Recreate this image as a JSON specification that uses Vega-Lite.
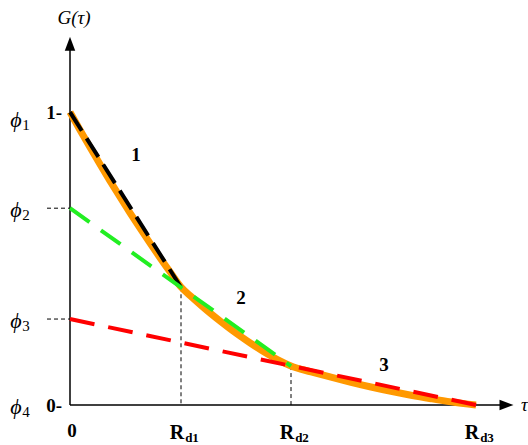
{
  "$schema": "https://vega.github.io/schema/vega-lite/v6.json",
  "width": 440,
  "height": 369,
  "autosize": "none",
  "padding": {"left": 70, "top": 36, "right": 18, "bottom": 40},
  "background": "white",
  "config": {"view": {"stroke": null}, "font": "Liberation Serif", "text": {"font": "Liberation Serif"}},
  "datasets": {
    "curve": [
      {"tau": 0, "G": 1.0}, {"tau": 10, "G": 0.9392}, {"tau": 20, "G": 0.8799}, {"tau": 30, "G": 0.8218},
      {"tau": 40, "G": 0.7652}, {"tau": 50, "G": 0.7102}, {"tau": 60, "G": 0.6563}, {"tau": 70, "G": 0.6038},
      {"tau": 80, "G": 0.5529}, {"tau": 90, "G": 0.5031}, {"tau": 100, "G": 0.4549}, {"tau": 111, "G": 0.4030},
      {"tau": 121, "G": 0.3710}, {"tau": 131, "G": 0.3406}, {"tau": 141, "G": 0.3116}, {"tau": 151, "G": 0.2843},
      {"tau": 161, "G": 0.2580}, {"tau": 171, "G": 0.2334}, {"tau": 181, "G": 0.2099}, {"tau": 191, "G": 0.1881},
      {"tau": 201, "G": 0.1676}, {"tau": 211, "G": 0.1490}, {"tau": 221, "G": 0.1330},
      {"tau": 241, "G": 0.1133}, {"tau": 261, "G": 0.0949}, {"tau": 281, "G": 0.0775}, {"tau": 301, "G": 0.0614},
      {"tau": 321, "G": 0.0468}, {"tau": 341, "G": 0.0334}, {"tau": 361, "G": 0.0215}, {"tau": 381, "G": 0.0106},
      {"tau": 406, "G": 0.0}
    ],
    "segments": [
      {"seg": "1", "tau": 0, "G": 1.0}, {"seg": "1", "tau": 111, "G": 0.402},
      {"seg": "2", "tau": 0, "G": 0.672}, {"seg": "2", "tau": 221, "G": 0.133},
      {"seg": "3", "tau": 0, "G": 0.2935}, {"seg": "3", "tau": 406, "G": 0.0}
    ],
    "breaks": [
      {"name": "d1", "Rd": 111, "G": 0.402},
      {"name": "d2", "Rd": 221, "G": 0.133},
      {"name": "d3", "Rd": 406, "G": 0.0}
    ],
    "phis": [
      {"sub": "1", "phi": 1.0},
      {"sub": "2", "phi": 0.672},
      {"sub": "3", "phi": 0.2935},
      {"sub": "4", "phi": 0.0}
    ],
    "ticks": [
      {"t": "1-", "G": 1.0},
      {"t": "0-", "G": 0.0}
    ],
    "segLabels": [
      {"label": "1", "tau": 66, "G": 0.853},
      {"label": "2", "tau": 171, "G": 0.365},
      {"label": "3", "tau": 314, "G": 0.137}
    ],
    "axes": [
      {"axis": "G", "tau0": 0, "tau1": 0, "G0": 0, "G1": 1.215},
      {"axis": "tau", "tau0": 0, "tau1": 432, "G0": 0, "G1": 0}
    ]
  },
  "layer": [
    {
      "data": {"name": "breaks"},
      "transform": [{"filter": "datum.G > 0"}],
      "mark": {"type": "rule", "color": "black", "strokeWidth": 1, "strokeDash": [4, 3]},
      "encoding": {
        "x": {"field": "Rd", "type": "quantitative", "scale": {"domain": [0, 440], "nice": false}, "axis": null},
        "y": {"field": "G", "type": "quantitative", "scale": {"domain": [0, 1.26], "nice": false}, "axis": null},
        "y2": {"datum": 0}
      }
    },
    {
      "data": {"name": "phis"},
      "transform": [{"filter": "datum.sub == '2' || datum.sub == '3'"}],
      "mark": {"type": "rule", "color": "black", "strokeWidth": 1, "strokeDash": [4, 3]},
      "encoding": {
        "y": {"field": "phi", "type": "quantitative"},
        "x": {"datum": -23, "type": "quantitative"},
        "x2": {"datum": 0}
      }
    },
    {
      "data": {"name": "axes"},
      "mark": {"type": "rule", "color": "black", "strokeWidth": 1.5},
      "encoding": {
        "x": {"field": "tau0", "type": "quantitative"},
        "x2": {"field": "tau1"},
        "y": {"field": "G0", "type": "quantitative"},
        "y2": {"field": "G1"}
      }
    },
    {
      "data": {"values": [{"axis": "G"}]},
      "mark": {"type": "point", "shape": "M-0.75,1L0,-1L0.75,1Z", "filled": true, "color": "black", "size": 196, "opacity": 1},
      "encoding": {
        "x": {"datum": 0, "type": "quantitative"},
        "y": {"datum": 1.2335, "type": "quantitative"}
      }
    },
    {
      "data": {"values": [{"axis": "tau"}]},
      "mark": {"type": "point", "shape": "M-1,-0.75L1,0L-1,0.75Z", "filled": true, "color": "black", "size": 196, "opacity": 1},
      "encoding": {
        "x": {"datum": 436.5, "type": "quantitative"},
        "y": {"datum": 0, "type": "quantitative"}
      }
    },
    {
      "data": {"name": "curve"},
      "mark": {"type": "line", "color": "#FF9900", "strokeWidth": 7, "strokeCap": "butt", "strokeJoin": "round", "interpolate": "monotone"},
      "encoding": {
        "x": {"field": "tau", "type": "quantitative"},
        "y": {"field": "G", "type": "quantitative"}
      }
    },
    {
      "data": {"name": "segments"},
      "transform": [{"filter": "datum.seg == '1'"}],
      "mark": {"type": "line", "strokeWidth": 4, "strokeCap": "butt", "color": "#000000", "strokeDash": [22, 9]},
      "encoding": {
        "x": {"field": "tau", "type": "quantitative"},
        "y": {"field": "G", "type": "quantitative"}
      }
    },
    {
      "data": {"name": "segments"},
      "transform": [{"filter": "datum.seg == '2'"}],
      "mark": {"type": "line", "strokeWidth": 4, "strokeCap": "butt", "color": "#22EE22", "strokeDash": [24, 14]},
      "encoding": {
        "x": {"field": "tau", "type": "quantitative"},
        "y": {"field": "G", "type": "quantitative"}
      }
    },
    {
      "data": {"name": "segments"},
      "transform": [{"filter": "datum.seg == '3'"}],
      "mark": {"type": "line", "strokeWidth": 4, "strokeCap": "butt", "color": "#FF0000", "strokeDash": [25, 14]},
      "encoding": {
        "x": {"field": "tau", "type": "quantitative"},
        "y": {"field": "G", "type": "quantitative"}
      }
    },
    {
      "data": {"name": "segLabels"},
      "mark": {"type": "text", "font": "Liberation Serif", "fontSize": 19, "fontWeight": "bold", "color": "black", "baseline": "middle", "align": "center"},
      "encoding": {
        "x": {"field": "tau", "type": "quantitative"},
        "y": {"field": "G", "type": "quantitative"},
        "text": {"field": "label"}
      }
    },
    {
      "data": {"name": "ticks"},
      "mark": {"type": "text", "font": "Liberation Serif", "fontSize": 19, "fontWeight": "bold", "color": "black", "align": "right", "baseline": "middle", "dx": -8, "dy": 1},
      "encoding": {
        "x": {"datum": 0, "type": "quantitative"},
        "y": {"field": "G", "type": "quantitative"},
        "text": {"field": "t"}
      }
    },
    {
      "data": {"name": "phis"},
      "transform": [{"filter": "datum.sub != '1'"}],
      "mark": {"type": "text", "font": "Liberation Serif", "fontSize": 22, "fontStyle": "italic", "color": "black", "align": "center", "baseline": "middle", "dx": -54, "dy": 2},
      "encoding": {
        "x": {"datum": 0, "type": "quantitative"},
        "y": {"field": "phi", "type": "quantitative"},
        "text": {"value": "ϕ"}
      }
    },
    {
      "data": {"name": "phis"},
      "transform": [{"filter": "datum.sub != '1'"}],
      "mark": {"type": "text", "font": "Liberation Serif", "fontSize": 15, "color": "black", "align": "center", "baseline": "middle", "dx": -44, "dy": 7},
      "encoding": {
        "x": {"datum": 0, "type": "quantitative"},
        "y": {"field": "phi", "type": "quantitative"},
        "text": {"field": "sub"}
      }
    },
    {
      "data": {"name": "phis"},
      "transform": [{"filter": "datum.sub == '1'"}],
      "mark": {"type": "text", "font": "Liberation Serif", "fontSize": 22, "fontStyle": "italic", "color": "black", "align": "center", "baseline": "middle", "dx": -54, "dy": 8},
      "encoding": {
        "x": {"datum": 0, "type": "quantitative"},
        "y": {"field": "phi", "type": "quantitative"},
        "text": {"value": "ϕ"}
      }
    },
    {
      "data": {"name": "phis"},
      "transform": [{"filter": "datum.sub == '1'"}],
      "mark": {"type": "text", "font": "Liberation Serif", "fontSize": 15, "color": "black", "align": "center", "baseline": "middle", "dx": -44, "dy": 13},
      "encoding": {
        "x": {"datum": 0, "type": "quantitative"},
        "y": {"field": "phi", "type": "quantitative"},
        "text": {"field": "sub"}
      }
    },
    {
      "data": {"values": [{"t": "0"}]},
      "mark": {"type": "text", "font": "Liberation Serif", "fontSize": 19, "fontWeight": "bold", "color": "black", "align": "center", "baseline": "middle", "dx": 2, "dy": 26},
      "encoding": {
        "x": {"datum": 0, "type": "quantitative"},
        "y": {"datum": 0, "type": "quantitative"},
        "text": {"field": "t"}
      }
    },
    {
      "data": {"name": "breaks"},
      "mark": {"type": "text", "font": "Liberation Serif", "fontSize": 20, "fontWeight": "bold", "color": "black", "align": "center", "baseline": "middle", "dx": -4, "dy": 28},
      "encoding": {
        "x": {"field": "Rd", "type": "quantitative"},
        "y": {"datum": 0, "type": "quantitative"},
        "text": {"value": "R"}
      }
    },
    {
      "data": {"name": "breaks"},
      "mark": {"type": "text", "font": "Liberation Serif", "fontSize": 13, "fontWeight": "bold", "color": "black", "align": "center", "baseline": "middle", "dx": 11, "dy": 33},
      "encoding": {
        "x": {"field": "Rd", "type": "quantitative"},
        "y": {"datum": 0, "type": "quantitative"},
        "text": {"field": "name"}
      }
    },
    {
      "data": {"values": [{"t": "G(τ)"}]},
      "mark": {"type": "text", "font": "Liberation Serif", "fontSize": 19, "fontStyle": "italic", "color": "black", "align": "center", "baseline": "middle", "dx": 4, "dy": -18},
      "encoding": {
        "x": {"datum": 0, "type": "quantitative"},
        "y": {"datum": 1.26, "type": "quantitative"},
        "text": {"field": "t"}
      }
    },
    {
      "data": {"values": [{"t": "τ"}]},
      "mark": {"type": "text", "font": "Liberation Serif", "fontSize": 19, "fontStyle": "italic", "color": "black", "align": "left", "baseline": "middle", "dx": 11, "dy": 0},
      "encoding": {
        "x": {"datum": 440, "type": "quantitative"},
        "y": {"datum": 0, "type": "quantitative"},
        "text": {"field": "t"}
      }
    }
  ]
}
